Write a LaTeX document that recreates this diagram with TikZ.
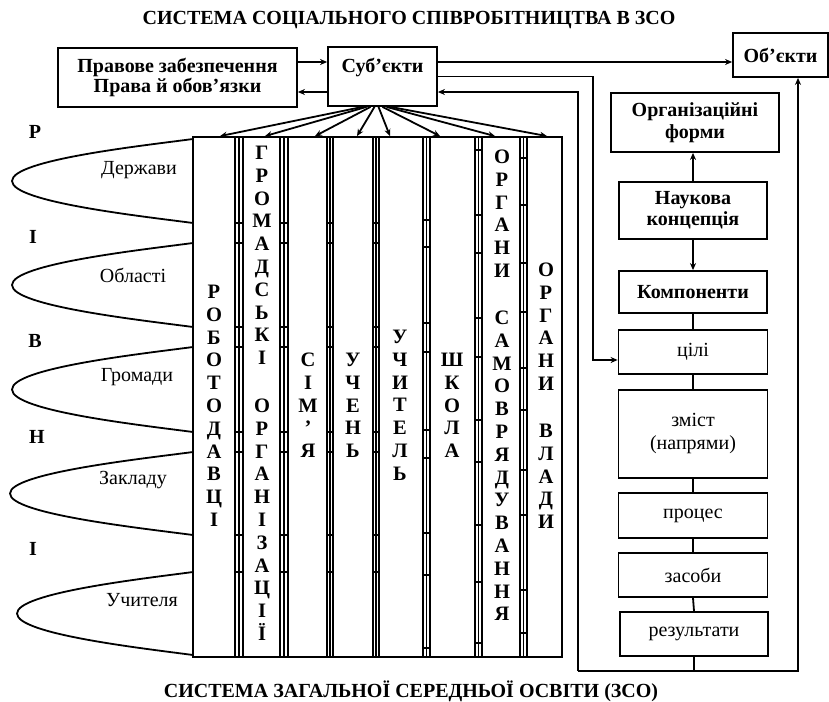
\documentclass[tikz,border=0pt]{standalone}
\usepackage{fontspec}
\setmainfont{Liberation Serif}
\usetikzlibrary{arrows.meta,calc}
\newcommand\vword[4]{\foreach \lt [count=\i] in {#4} {\node[vl] (#1\i) at (#2,{#3+22.8*(\i-1)}) {\lt};}}
\begin{document}
\begin{tikzpicture}[x=1pt,y=-1pt,
  every node/.style={inner sep=0pt, font=\fontsize{20}{20}\selectfont},
  box/.style={draw, line width=1.8pt, rectangle, align=center},
  bx/.style={box, font=\fontsize{20}{20}\selectfont\bfseries},
  rx/.style={box, font=\fontsize{20}{23}\selectfont},
  colbox/.style={draw, line width=1.8pt, minimum width=#1, minimum height=520pt},
  ln/.style={line width=1.8pt},
  arr/.style={ln, -{Stealth[length=7pt,width=6pt]}},
  vl/.style={font=\fontsize{20.5}{20.5}\selectfont\bfseries, anchor=base},
  bl/.style={font=\fontsize{20}{20}\selectfont\bfseries},
  el/.style={font=\fontsize{20}{20}\selectfont}]
\useasboundingbox (0,0) rectangle (829,701);
% titles
\node[bl] (t1) at (409,20) {СИСТЕМА СОЦІАЛЬНОГО СПІВРОБІТНИЦТВА В ЗСО};
\node[bl] (t2) at (411,691) {СИСТЕМА ЗАГАЛЬНОЇ СЕРЕДНЬОЇ ОСВІТИ (ЗСО)};
% top boxes
\node[bx, minimum width=239pt, minimum height=59pt, font=\fontsize{20}{17.5}\selectfont\bfseries] (prav) at (177.5,77.5) {Правове забезпечення\\Права й обов’язки};
\node[bx, minimum width=109pt, minimum height=59pt, text height=14pt, text depth=21pt] (sub) at (382.5,76.5) {Суб’єкти};
\node[bx, minimum width=95pt, minimum height=44pt] (obj) at (780.5,55) {Об’єкти};
% right column
\node[bx, minimum width=168pt, minimum height=59pt, font=\fontsize{20}{22}\selectfont\bfseries] (org) at (695,122.5) {Організаційні\\форми};
\node[bx, minimum width=148pt, minimum height=57pt, font=\fontsize{20}{21}\selectfont\bfseries] (nauk) at (693,210.5) {Наукова\\концепція};
\node[bx, minimum width=148pt, minimum height=42pt] (komp) at (693,292) {Компоненти};
\node[rx, minimum width=149pt, minimum height=44pt] (cili) at (693,352) {цілі};
\node[rx, minimum width=149pt, minimum height=88pt] (zmist) at (693,434) {зміст\\(напрями)};
\node[rx, minimum width=149pt, minimum height=45pt] (proc) at (693,515.5) {процес};
\node[rx, minimum width=149pt, minimum height=44pt] (zas) at (693,575) {засоби};
\node[rx, minimum width=148pt, minimum height=44pt] (rez) at (694,634) {результати};
\draw[arr] (nauk.north) -- (nauk.north |- org.south);
\draw[arr] (nauk.south) -- (komp.north);
\draw[ln] (komp.south) -- (cili.north);
\draw[ln] (cili.south) -- (zmist.north);
\draw[ln] (zmist.south) -- (proc.north);
\draw[ln] (proc.south) -- (zas.north);
\draw[ln] (zas.south) -- (rez.north);
% top connectors
\coordinate (p1) at ($(prav.east)+(0,-15.5)$);
\draw[arr] (p1) -- (p1 -| sub.west);
\coordinate (p2) at ($(sub.west)+(0,15.5)$);
\draw[arr] (p2) -- (p2 -| prav.east);
\coordinate (s1) at ($(sub.east)+(0,-14.5)$);
\draw[arr] (s1) -- (s1 -| obj.west);
\coordinate (ca) at (593,360);
\draw[arr] (sub.east) -| (ca) -- (ca -| cili.west);
\coordinate (fbl) at (578,671);
\coordinate (fbr) at (798,671);
\draw[ln] (rez.south) -- (rez.south |- fbl);
\draw[arr] (fbl) -- (fbr) -- (fbr |- obj.south);
\coordinate (s2) at ($(sub.east)+(0,15.5)$);
\draw[arr] (fbl) |- (s2);
% columns
\node[colbox=42pt] (c1) at (214,397) {};
\node[colbox=37pt] (c2) at (261.5,397) {};
\node[colbox=39pt] (c3) at (307.5,397) {};
\node[colbox=40pt] (c4) at (353,397) {};
\node[colbox=44pt] (c5) at (401,397) {};
\node[colbox=45pt] (c6) at (452.5,397) {};
\node[colbox=38pt] (c7) at (501,397) {};
\node[colbox=35pt] (c8) at (544.5,397) {};
% strips between columns
\foreach \a/\m/\b/\ys in {
  235/239/243/{137,223,243,327,347,432,452,535,572,657},
  280/284/288/{137,223,243,327,347,432,452,535,572,657},
  327/330/333/{137,223,243,327,347,432,452,535,572,657},
  373/376/379/{137,223,243,327,347,432,452,535,572,657},
  423/426.5/430/{137,220,247,323,352,430,458,533,575,648,657},
  475/478.5/482/{137,150,215,253,318,357,420,462,525,582,643,657},
  520/523.5/527/{137,158,205,263,312,368,410,470,515,590,633,657}} {
  \draw[ln] (\m,137) -- (\m,657);
  \foreach \y in \ys {\draw[ln] (\a,\y) -- (\b,\y);}
}
% arrows from subjects to columns
\foreach \i/\sx/\ex in {1/-20/6, 2/-16/3.5, 3/-12/7.5, 4/-8/4, 5/-4/-11, 6/0/-12.5, 7/4/-6, 8/8/2.5}
  \draw[arr] ($(sub.south)+(\sx,0)$) -- ($(c\i.north)+(\ex,0)$);
% column letters
\vword{La}{214}{298.5}{Р,О,Б,О,Т,О,Д,А,В,Ц,І}
\vword{Lb}{262}{159.5}{Г,Р,О,М,А,Д,С,Ь,К,І}
\vword{Lc}{262}{412.5}{О,Р,Г,А,Н,І,З,А,Ц,І,Ї}
\vword{Ld}{308}{366.5}{С,І,М,’,Я}
\vword{Le}{353}{366.5}{У,Ч,Е,Н,Ь}
\vword{Lf}{400}{343.5}{У,Ч,И,Т,Е,Л,Ь}
\vword{Lg}{452}{366.5}{Ш,К,О,Л,А}
\vword{Lh}{502}{163.5}{О,Р,Г,А,Н,И}
\vword{Li}{502}{324.5}{С,А,М,О,В,Р,Я,Д,У,В,А,Н,Н,Я}
\vword{Lj}{546}{276.5}{О,Р,Г,А,Н,И}
\vword{Lk}{546}{437.5}{В,Л,А,Д,И}
% ellipses
\foreach \t/\b/\L in {139/223/12, 243/327/12, 347/432/12, 452/535/10, 572/655/17}
  \draw[ln] (193,\t) .. controls (140,{\t+7}) and (\L,{\t+21}) .. (\L,{(\t+\b)/2})
     .. controls (\L,{\b-21}) and (140,{\b-7}) .. (193,\b);
\node[el] (e1) at (139,170) {Держави};
\node[el] (e2) at (133,275) {Області};
\node[el] (e3) at (137,377) {Громади};
\node[el] (e4) at (133,480) {Закладу};
\node[el] (e5) at (142,600) {Учителя};
% left letters
\node[bl] (r1) at (35,132) {Р};
\node[bl] (r2) at (33,237) {І};
\node[bl] (r3) at (35,341) {В};
\node[bl] (r4) at (37,437) {Н};
\node[bl] (r5) at (33,549) {І};
\end{tikzpicture}
\end{document}
